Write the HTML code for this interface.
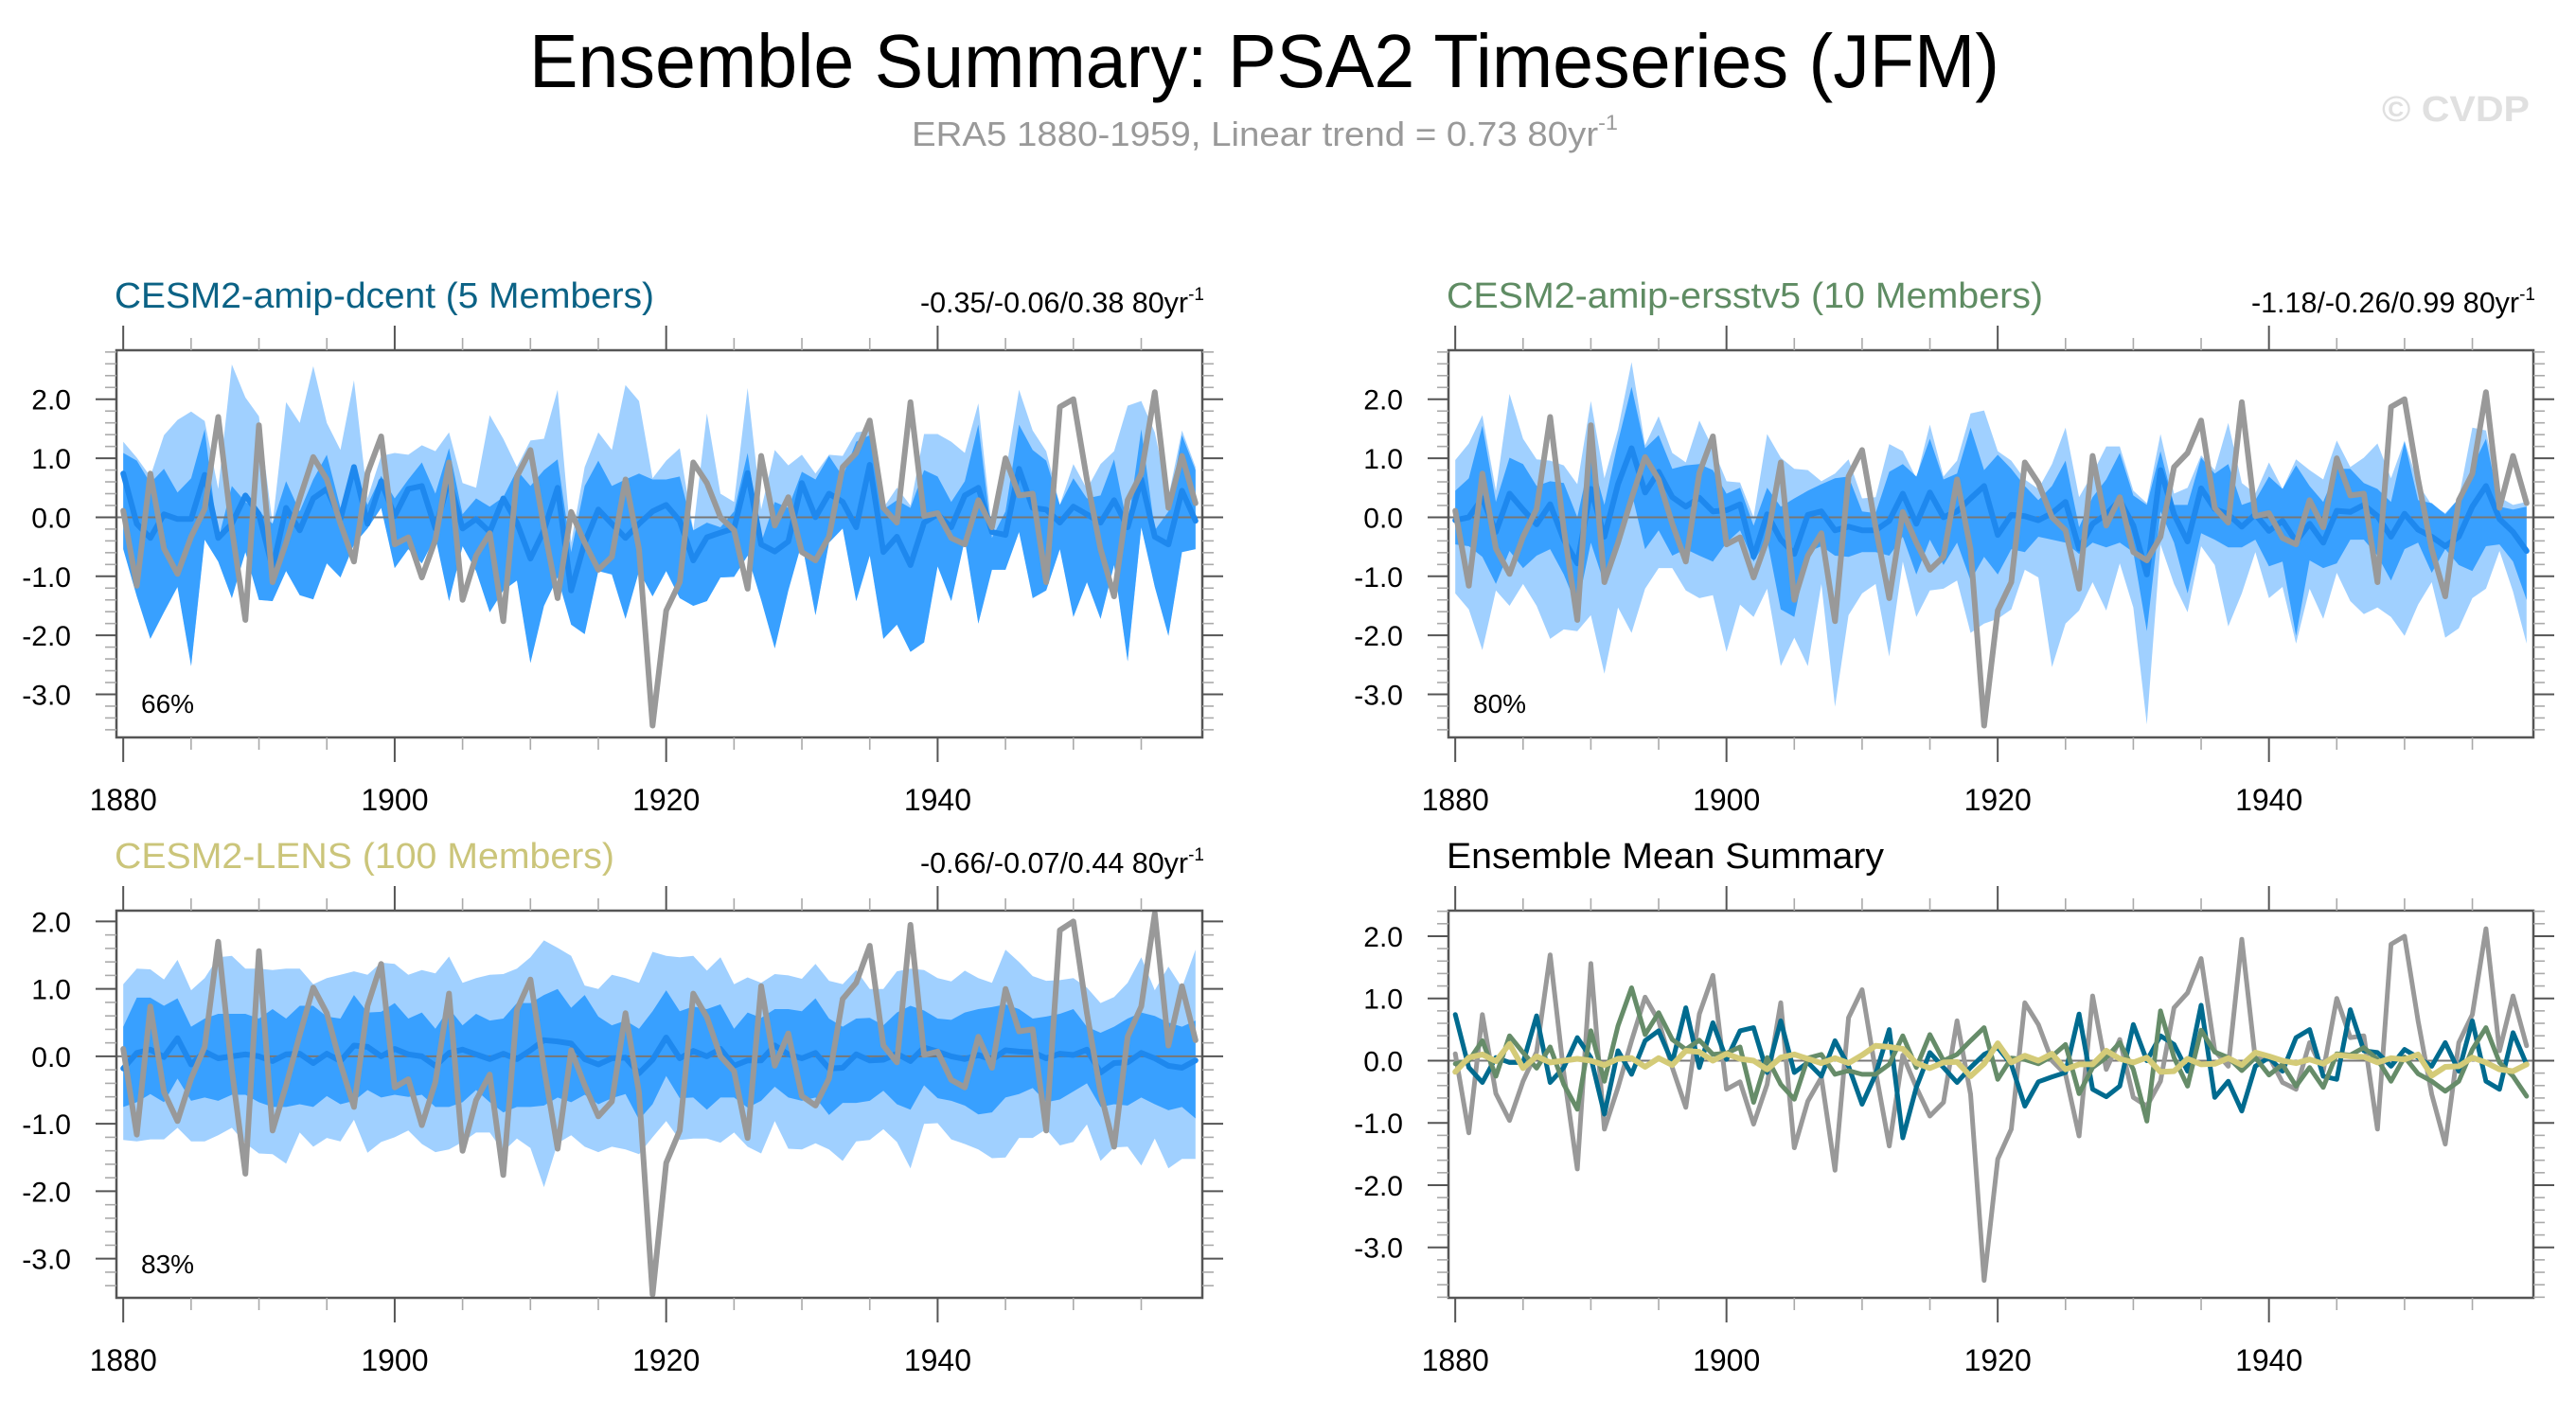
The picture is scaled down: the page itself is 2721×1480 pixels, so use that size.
<!DOCTYPE html>
<html><head><meta charset="utf-8"><title>Ensemble Summary: PSA2 Timeseries (JFM)</title>
<style>
html,body{margin:0;padding:0;background:#fff;}
svg{display:block;font-family:"Liberation Sans",sans-serif;}
</style></head>
<body>
<svg id="chart" xmlns="http://www.w3.org/2000/svg" width="2721" height="1480" viewBox="0 0 2721 1480">
<text x="559" y="92" font-size="80" textLength="1553" lengthAdjust="spacingAndGlyphs" fill="#000">Ensemble Summary: PSA2 Timeseries (JFM)</text>
<text x="963" y="154" font-size="36" fill="#999" textLength="746" lengthAdjust="spacingAndGlyphs">ERA5 1880-1959, Linear trend = 0.73 80yr<tspan dy="-17" font-size="22">-1</tspan></text>
<text x="2516" y="128" font-size="38" font-weight="bold" fill="#e0e0e0" textLength="156" lengthAdjust="spacingAndGlyphs">© CVDP</text>
<g id="panels"></g>
</svg>
<script>
const years = [];
for (let y = 1880; y <= 1959; y++) years.push(y);
const xTickLabels = ["1880","1900","1920","1940"];
const yTickLabels = ["-3.0","-2.0","-1.0","0.0","1.0","2.0"];
const yTickValues = [-3,-2,-1,0,1,2];
const xTickValues = [1880,1900,1920,1940];

const era5 = [0.11,-1.16,0.74,-0.53,-0.96,-0.33,0.14,1.70,-0.2,-1.74,
1.56,-1.10,-0.43,0.32,1.02,0.64,-0.11,-0.75,0.75,1.37,
-0.46,-0.34,-1.02,-0.38,0.93,-1.40,-0.65,-0.27,-1.76,0.69,
1.14,-0.17,-1.37,0.09,-0.43,-0.89,-0.67,0.64,-0.54,-3.53,
-1.58,-1.10,0.93,0.58,0,-0.22,-1.21,1.04,-0.14,0.34,
-0.59,-0.73,-0.33,0.85,1.09,1.64,0.16,-0.09,1.95,0.02,
0.07,-0.35,-0.46,0.29,-0.17,1.0,0.37,0.40,-1.10,1.87,
2.0,0.64,-0.54,-1.34,0.29,0.74,2.12,0.16,1.04,0.24];

const dcentMean = [0.74,-0.11,-0.35,0.05,-0.03,-0.03,0.72,-0.35,-0.11,0.37,
0.05,-0.86,0.16,-0.22,0.32,0.48,-0.03,0.85,-0.11,0.61,
0.02,0.48,0.53,-0.19,0.64,-0.19,-0.03,-0.25,0.32,-0.09,
-0.70,-0.22,0.50,-1.24,-0.43,0.13,-0.11,-0.35,-0.11,0.10,
0.21,-0.06,-0.73,-0.34,-0.26,-0.19,0.75,-0.46,-0.58,-0.41,
0.58,0,0.40,0.26,-0.17,0.89,-0.59,-0.33,-0.81,-0.09,
0.05,-0.17,0.37,0.50,-0.25,-0.30,0.82,0.16,0.13,-0.09,
0.18,0.05,-0.09,0.29,-0.17,0.64,-0.33,-0.46,0.45,-0.06];
const dcentLightHi = [1.28,1.01,0.69,1.39,1.65,1.79,1.63,0.48,2.59,2.03,
1.71,-0.11,1.95,1.6,2.56,1.6,1.14,2.32,0.32,1.04,
1.09,1.06,1.22,1.12,1.44,0.58,0.5,1.73,1.33,0.85,
1.30,1.33,2.16,-0.43,0.85,1.44,1.14,2.24,1.97,0.66,
0.96,1.17,-0.22,1.76,0.40,0.26,2.19,0.13,1.14,0.88,
1.06,0.74,1.06,1.04,1.44,1.47,0.16,0.5,0.2,1.41,
1.41,1.28,1.09,1.93,-0.22,0.74,2.16,1.47,1.12,0.21,
0.90,0.48,0.90,1.12,1.89,1.97,1.44,0.34,1.47,0.85];
const dcentDarkHi = [1.09,0.96,0.58,0.82,0.42,0.66,1.49,-0.38,0.53,0.26,
0.10,-0.11,0.61,0.10,0.64,1.06,0.16,0.85,0.21,0.70,
0.32,0.64,0.93,0.40,1.17,0.05,0.32,0.18,0.34,0.80,
0.53,0.80,0.98,-0.59,0.53,0.96,0.53,0.64,0.74,0.64,
0.64,0.69,-0.22,-0.09,-0.17,0.10,1.09,-0.43,0.26,0.16,
0.77,0.64,1.04,0.69,1.28,1.39,0.13,0.29,0.16,0.80,
0.69,0.26,0.61,1.57,-0.35,0.10,1.57,1.14,0.96,0.21,
0.66,0.32,0.37,0.98,-0.17,1.49,-0.22,0.10,1.39,0.80];
const dcentDarkLo = [-0.54,-1.34,-2.06,-1.61,-1.18,-2.52,-0.38,-0.75,-1.37,-0.59,
-1.40,-1.42,-0.91,-1.32,-1.39,-0.78,-1.02,-0.46,-0.19,0.16,
-0.86,-0.54,-0.78,-0.33,-1.42,-0.49,-0.91,-1.61,-1.24,-1.07,
-2.47,-1.50,-1.02,-1.82,-1.98,-0.91,-0.97,-1.72,-0.91,-1.34,
-0.91,-1.37,-1.50,-1.42,-1.02,-1.01,-0.65,-1.40,-2.22,-1.24,
-0.43,-1.66,-0.43,-0.19,-1.42,-0.65,-2.06,-1.82,-2.28,-2.12,
-0.83,-1.42,-0.38,-1.80,-0.89,-0.89,-0.25,-1.37,-1.24,-0.54,
-1.69,-1.10,-1.72,-0.81,-2.44,-0.17,-1.18,-2.01,-0.59,-0.54];
const dcentLightLo = dcentDarkLo.slice();

const ersstMean = [-0.05,0,0.32,-0.25,0.40,0.13,-0.12,0.22,-0.38,-0.78,
0.48,-0.33,0.56,1.17,0.42,0.77,0.34,0.18,0.33,0.10,
0.12,0.22,-0.67,0.05,-0.38,-0.62,0.04,0.10,-0.22,-0.16,
-0.22,-0.22,-0.06,0.40,-0.11,0.42,0,0.10,0.32,0.53,
-0.30,0.04,0.02,-0.05,0.07,0.26,-0.53,-0.11,0.05,0.29,
-0.14,-0.97,0.80,0.05,-0.41,0.49,0.14,0.05,-0.16,0.05,
-0.23,-0.06,-0.41,-0.11,-0.43,0.11,0.09,0.21,0.02,-0.33,
0.06,-0.21,-0.33,-0.49,-0.33,0.18,0.53,-0.03,-0.25,-0.57];
const ersstLightHi = [0.97,1.25,1.73,0.45,2.09,1.33,0.98,0.96,0.88,0.56,
1.97,0.66,1.49,2.63,1.22,1.71,1.09,0.93,1.64,1.17,
0.61,0.59,0,1.41,1.01,0.82,0.80,0.61,0.74,0.98,
0.32,0.34,1.24,1.12,0.66,1.57,0.69,0.96,1.76,1.81,
1.12,0.96,0.64,0.48,0.90,1.52,0.34,0.74,1.20,1.20,
0.45,0.24,1.41,0.40,0.50,1.05,0.80,1.60,0.58,0.40,
0.93,0.48,0.98,0.80,0.64,1.30,0.85,1.01,1.25,0.66,
1.30,0.56,0.21,0.07,0.32,1.52,1.47,0.34,0.21,0.26];
const ersstDarkHi = [0.45,0.66,1.55,0.26,1.01,0.90,0.53,0.61,0.58,0,
1.06,0.21,1.28,2.21,1.17,1.39,0.82,0.88,0.90,0.80,
0.40,0.50,-0.14,0.50,0.18,0.32,0.45,0.56,0.66,0.69,
0.10,0.07,0.77,0.90,0.69,1.33,0.64,0.74,1.52,0.80,
1.06,0.82,0.53,0.29,0.53,0.96,-0.17,0.34,0.64,1.09,
0.37,0.21,1.12,0.21,0.21,1.01,0.74,0.90,0.21,0.29,
0.69,0.48,0.88,0.53,0.26,0.82,0.82,0.58,0.48,0.26,
1.28,0.29,0.24,0.05,0.32,0.85,1.33,0.18,0.13,0.18];
const ersstDarkLo = [-0.46,-0.49,-0.67,-1.13,-0.57,-0.86,-0.65,-0.54,-0.97,-1.53,
-0.43,-1.13,-0.33,0.42,-0.54,-0.22,-0.65,-0.54,-0.65,-0.75,
-0.43,-0.22,-0.75,-0.38,-1.56,-1.69,-0.59,-0.49,-0.65,-0.67,
-0.59,-0.59,-0.65,-0.33,-0.97,-0.38,-0.81,-0.43,-1.07,-0.67,
-0.97,-0.54,-0.59,-0.33,-0.38,-0.43,-0.62,-0.43,-0.51,-0.43,
-0.59,-1.93,0.10,-0.43,-1.29,-0.27,-0.38,-0.51,-0.51,-0.38,
-0.83,-0.75,-2.01,-0.73,-0.86,-0.78,-0.38,-0.38,-0.65,-1.07,
-0.54,-0.43,-0.94,-0.54,-0.81,-0.91,-0.49,-0.46,-0.75,-1.40];
const ersstLightLo = [-1.29,-1.56,-2.25,-1.24,-1.50,-1.13,-1.50,-2.06,-1.90,-1.93,
-1.66,-2.65,-1.53,-1.96,-1.21,-0.86,-0.86,-1.24,-1.37,-1.32,
-2.28,-1.48,-1.69,-1.21,-2.52,-2.04,-2.52,-1.13,-3.21,-1.66,
-1.29,-1.13,-2.36,-0.75,-1.69,-1.24,-1.21,-1.07,-1.96,-1.80,
-1.72,-1.56,-0.89,-1.02,-2.54,-1.80,-1.58,-1.10,-1.58,-0.78,
-1.53,-3.51,-0.46,-1.13,-1.61,-0.49,-0.81,-1.85,-1.29,-0.59,
-1.37,-1.18,-2.14,-1.21,-1.72,-0.94,-1.42,-1.64,-1.53,-1.69,
-2.01,-1.48,-1.10,-2.04,-1.88,-1.37,-1.21,-0.57,-1.26,-2.14];

const lensMean = [-0.18,0.05,0.10,-0.01,0.27,-0.12,0.07,-0.03,0,0.03,
0,-0.07,0.03,0.04,-0.10,0.04,-0.07,0.16,0.14,0,
0.11,0.03,0,-0.14,0.05,0.10,0.03,-0.04,0.04,-0.04,
0.09,0.24,0.22,0.19,-0.04,-0.12,-0.03,-0.02,-0.25,-0.05,
0.28,-0.03,0.08,0,0.11,-0.14,-0.06,-0.06,0.16,0.03,
-0.03,0.05,-0.18,-0.17,0.03,-0.06,-0.05,0.04,-0.07,0.13,
0.07,0,-0.04,0.02,-0.05,0.09,0.07,0.06,-0.03,0.04,
0.02,0.10,-0.24,-0.10,-0.09,0.05,-0.03,-0.14,-0.17,-0.06];
const lensLightHi = [1.07,1.30,1.29,1.14,1.43,0.98,1.16,1.47,1.49,1.30,
1.30,1.28,1.30,1.30,1.07,1.16,1.21,1.26,1.21,1.39,
1.37,1.21,1.28,1.23,1.48,1.09,1.16,1.21,1.22,1.30,
1.47,1.72,1.61,1.49,1.05,1.0,1.21,1.16,1.09,1.55,
1.49,1.47,1.49,1.27,1.47,1.07,1.17,1.09,1.22,1.20,
1.15,1.37,1.12,1.07,1.28,1.0,1.0,1.26,1.30,1.28,
1.16,1.11,1.27,1.16,1.09,1.58,1.40,1.19,1.12,1.13,
1.16,1.02,0.79,0.88,1.09,1.47,0.98,1.33,1.02,1.58];
const lensDarkHi = [0.44,0.87,0.87,0.75,0.86,0.44,0.56,0.63,0.63,0.63,
0.56,0.70,0.56,0.75,0.75,0.59,0.56,0.91,0.65,0.66,
0.79,0.56,0.65,0.41,0.71,0.46,0.63,0.53,0.56,0.79,
0.79,0.91,1.0,0.72,0.91,0.59,0.46,0.53,0.41,0.67,
0.98,0.67,0.74,0.70,0.77,0.41,0.65,0.57,0.70,0.70,
0.67,0.86,0.56,0.44,0.56,0.57,0.46,0.65,0.75,0.68,
0.56,0.54,0.65,0.70,0.73,0.77,0.70,0.56,0.59,0.63,
0.70,0.44,0.35,0.44,0.56,0.65,0.60,0.50,0.44,0.53];
const lensDarkLo = [-0.75,-0.68,-0.56,-0.68,-0.33,-0.66,-0.61,-0.66,-0.57,-0.57,
-0.68,-0.75,-0.75,-0.71,-0.75,-0.59,-0.71,-0.66,-0.50,-0.61,
-0.57,-0.60,-0.57,-0.75,-0.75,-0.68,-0.50,-0.68,-0.83,-0.75,
-0.75,-0.73,-0.61,-0.68,-0.57,-0.71,-0.62,-0.56,-0.94,-0.71,
-0.29,-0.62,-0.61,-0.79,-0.61,-0.61,-0.76,-0.66,-0.45,-0.61,
-0.66,-0.61,-0.87,-0.69,-0.69,-0.66,-0.51,-0.71,-0.79,-0.43,
-0.62,-0.66,-0.73,-0.86,-0.83,-0.61,-0.56,-0.47,-0.68,-0.64,
-0.52,-0.40,-0.75,-0.71,-0.73,-0.61,-0.71,-0.80,-0.75,-0.92];
const lensLightLo = [-1.24,-1.26,-1.23,-1.23,-1.06,-1.26,-1.26,-1.17,-1.06,-1.29,
-1.44,-1.45,-1.59,-1.13,-1.34,-1.21,-1.26,-0.94,-1.43,-1.27,
-1.20,-1.10,-1.30,-1.42,-1.38,-1.27,-1.13,-1.13,-1.41,-1.22,
-1.36,-1.94,-1.29,-1.17,-1.34,-1.42,-1.34,-1.38,-1.45,-1.20,
-0.96,-1.24,-1.22,-1.22,-1.28,-1.13,-1.34,-1.44,-0.96,-1.37,
-1.38,-1.29,-1.38,-1.55,-1.26,-1.24,-1.08,-1.27,-1.66,-1.0,
-0.99,-1.23,-1.30,-1.38,-1.51,-1.50,-1.21,-1.21,-1.08,-1.32,
-1.27,-1.01,-1.55,-1.35,-1.34,-1.62,-1.22,-1.66,-1.52,-1.52];

const NS = "http://www.w3.org/2000/svg";
const root = document.getElementById("panels");
function mk(tag, parent, attrs) {
  const e = document.createElementNS(NS, tag);
  for (const k in attrs) e.setAttribute(k, attrs[k]);
  parent.appendChild(e);
  return e;
}

function drawPanel(cfg) {
  const g = mk("g", root, {});
  
  
  const {x0, x1, y0, y1, ymin, ymax} = cfg;
  const sx = yr => x0 + (yr - 1879.5) / 80 * (x1 - x0);
  const sy = v => y0 + (ymax - v) / (ymax - ymin) * (y1 - y0);
  const clipId = "clip-" + cfg.id;
  const cp = mk("clipPath", g, {id: clipId});
  mk("rect", cp, {x: x0, y: y0, width: x1 - x0, height: y1 - y0});
  const plot = mk("g", g, {"clip-path": "url(#" + clipId + ")"});
  
  

  function band(hi, lo, color, name) {
    let pts = [];
    for (let i = 0; i < years.length; i++) pts.push(sx(years[i]).toFixed(1) + "," + sy(hi[i]).toFixed(1));
    for (let i = years.length - 1; i >= 0; i--) pts.push(sx(years[i]).toFixed(1) + "," + sy(lo[i]).toFixed(1));
    const p = mk("polygon", plot, {points: pts.join(" "), fill: color, stroke: "none"});
    
    
  }
  function line(vals, color, w, name) {
    const pts = vals.map((v, i) => sx(years[i]).toFixed(1) + "," + sy(v).toFixed(1)).join(" ");
    const p = mk("polyline", plot, {points: pts, fill: "none", stroke: color, "stroke-width": w, "stroke-linejoin": "round", "stroke-linecap": "round"});
    
    
  }
  if (cfg.bands) {
    band(cfg.bands.lightHi, cfg.bands.lightLo, "#a0d0ff", cfg.id + "-outer-spread-band");
    band(cfg.bands.darkHi, cfg.bands.darkLo, "#38a0ff", cfg.id + "-inner-spread-band");
  }
  const zl = mk("line", plot, {x1: x0, x2: x1, y1: sy(0), y2: sy(0), stroke: "#777", "stroke-width": 2});
  
  
  for (const s of cfg.series) line(s.vals, s.color, s.w, s.name);

  const fr = mk("rect", g, {x: x0, y: y0, width: x1 - x0, height: y1 - y0, fill: "none", stroke: "#555", "stroke-width": 2.5});
  
  

  const axg = mk("g", g, {});
  
  
  for (let yr = 1880; yr <= 1955; yr += 5) {
    const major = (yr % 20 === 0);
    const L = major ? 26 : 13;
    const x = sx(yr);
    mk("line", axg, {x1: x, x2: x, y1: y1, y2: y1 + L, stroke: major ? "#555" : "#aaa", "stroke-width": major ? 2 : 1.6});
    mk("line", axg, {x1: x, x2: x, y1: y0, y2: y0 - L, stroke: major ? "#555" : "#aaa", "stroke-width": major ? 2 : 1.6});
  }
  xTickValues.forEach((yr, i) => {
    const t = mk("text", axg, {x: sx(yr), y: y1 + 77, "font-size": 32, "text-anchor": "middle", fill: "#000"});
    t.textContent = xTickLabels[i];
    
    
  });
  const ayg = mk("g", g, {});
  
  
  for (let k = Math.ceil(ymin / 0.2 - 1e-6); k <= Math.floor(ymax / 0.2 + 1e-6); k++) {
    const v = k * 0.2;
    const major = Math.abs(v - Math.round(v)) < 1e-6;
    const L = major ? 22 : 12;
    const y = sy(v);
    mk("line", ayg, {x1: x0, x2: x0 - L, y1: y, y2: y, stroke: major ? "#555" : "#aaa", "stroke-width": major ? 2 : 1.6});
    mk("line", ayg, {x1: x1, x2: x1 + L, y1: y, y2: y, stroke: major ? "#555" : "#aaa", "stroke-width": major ? 2 : 1.6});
  }
  yTickValues.forEach((v, i) => {
    const t = mk("text", ayg, {x: x0 - 48, y: sy(v) + 11, "font-size": 30, "text-anchor": "end", fill: "#000"});
    t.textContent = yTickLabels[i];
    
    
  });

  const tt = mk("text", g, {x: x0 - 2, y: y0 - 45, "font-size": 38, fill: cfg.titleColor, textLength: cfg.titleLen, lengthAdjust: "spacingAndGlyphs"});
  tt.textContent = cfg.title;
  
  
  if (cfg.trend) {
    const tr = mk("text", g, {x: x1 + 2, y: y0 - 40, "font-size": 30.5, fill: "#000", "text-anchor": "end"});
    tr.textContent = cfg.trend + " 80yr";
    const sup = mk("tspan", tr, {dy: -13, "font-size": 19});
    sup.textContent = "-1";
    
    
  }
  if (cfg.pct) {
    const pc = mk("text", g, {x: x0 + 26, y: y1 - 26, "font-size": 28, fill: "#000"});
    pc.textContent = cfg.pct;
    
    
  }
}

drawPanel({id: "dcent", x0: 123, x1: 1270, y0: 370, y1: 779, ymin: -3.73, ymax: 2.83,
  title: "CESM2-amip-dcent (5 Members)", titleColor: "#0b6285", titleLen: 570,
  trend: "-0.35/-0.06/0.38", pct: "66%",
  bands: {lightHi: dcentLightHi, lightLo: dcentLightLo, darkHi: dcentDarkHi, darkLo: dcentDarkLo},
  series: [{vals: dcentMean, color: "#1e88ee", w: 6, name: "dcent-ensemble-mean-line"},
           {vals: era5, color: "#999999", w: 6, name: "era5-line"}]});
drawPanel({id: "ersstv5", x0: 1530, x1: 2676, y0: 370, y1: 779, ymin: -3.73, ymax: 2.83,
  title: "CESM2-amip-ersstv5 (10 Members)", titleColor: "#5f8c63", titleLen: 630,
  trend: "-1.18/-0.26/0.99", pct: "80%",
  bands: {lightHi: ersstLightHi, lightLo: ersstLightLo, darkHi: ersstDarkHi, darkLo: ersstDarkLo},
  series: [{vals: ersstMean, color: "#1e88ee", w: 6, name: "ersstv5-ensemble-mean-line"},
           {vals: era5, color: "#999999", w: 6, name: "era5-line"}]});
drawPanel({id: "lens", x0: 123, x1: 1270, y0: 962, y1: 1371, ymin: -3.58, ymax: 2.16,
  title: "CESM2-LENS (100 Members)", titleColor: "#cbc57a", titleLen: 528,
  trend: "-0.66/-0.07/0.44", pct: "83%",
  bands: {lightHi: lensLightHi, lightLo: lensLightLo, darkHi: lensDarkHi, darkLo: lensDarkLo},
  series: [{vals: lensMean, color: "#1e88ee", w: 6, name: "lens-ensemble-mean-line"},
           {vals: era5, color: "#999999", w: 6, name: "era5-line"}]});
drawPanel({id: "summary", x0: 1530, x1: 2676, y0: 962, y1: 1371, ymin: -3.81, ymax: 2.41,
  title: "Ensemble Mean Summary", titleColor: "#000", titleLen: 462,
  trend: null, pct: null, bands: null,
  series: [{vals: era5, color: "#999999", w: 5, name: "era5-line"},
           {vals: dcentMean, color: "#006b8f", w: 5, name: "dcent-mean-line"},
           {vals: ersstMean, color: "#668c69", w: 5, name: "ersstv5-mean-line"},
           {vals: lensMean, color: "#d4cb78", w: 6, name: "lens-mean-line"}]});
</script>
</body></html>
